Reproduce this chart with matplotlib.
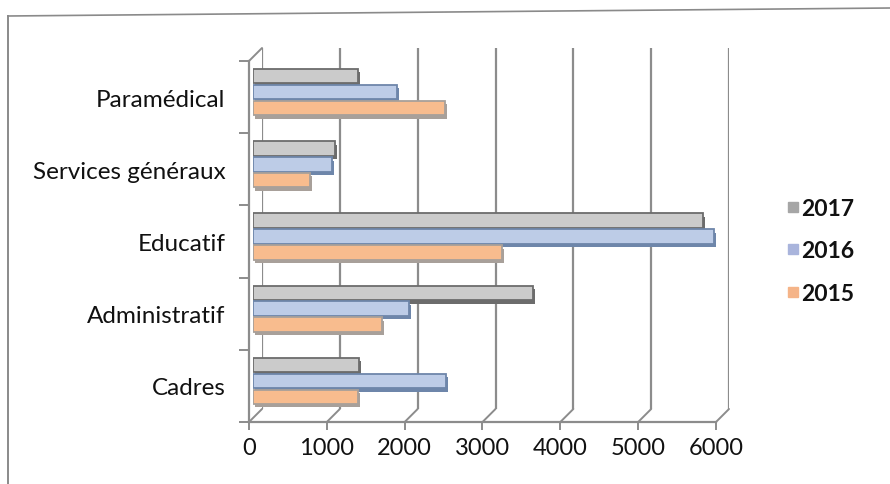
import numpy as np
import matplotlib.pyplot as plt
from matplotlib.lines import Line2D
from matplotlib.patches import ConnectionPatch
import matplotlib.patheffects as pe

plt.rcParams['font.family'] = ['Lato', 'DejaVu Sans']

# ---------------- data (bottom to top) ----------------
categories = ["Cadres", "Administratif", "Educatif", "Services généraux", "Paramédical"]
years = ["2017", "2016", "2015"]
v2017 = [1360, 3600, 5780, 1050, 1350]
v2016 = [2480, 2000, 5920, 1020, 1850]
v2015 = [1350, 1660, 3200, 730, 2470]
x_ticks = [0, 1000, 2000, 3000, 4000, 5000, 6000]

series = [v2017, v2016, v2015]
fills = ["#cbcbcb", "#bdcce7", "#f8bc8e"]
shadows = ["#6c6c6c", "#6e86aa", "#a8a09a"]
legend_cols = ["#a6a6a6", "#a9b4dc", "#f5b488"]
grid_col = "#8c8c8c"
text_col = "#111111"

W, H = 890, 485
fig = plt.figure(figsize=(W / 100, H / 100), dpi=100)


def px_axes(x0, x1, ytop, ybot, **kw):
    return fig.add_axes([x0 / W, 1 - ybot / H, (x1 - x0) / W, (ybot - ytop) / H], **kw)


n = len(categories)

# back wall (gridlines), front axis (ticks / labels) and bar plane between
wall = px_axes(262, 729, 49, 410)
front = px_axes(249, 716, 62, 423)
ax = px_axes(253, 720, 57, 418)

for a in (wall, front, ax):
    a.set_xlim(0, 6000)
    a.set_ylim(0, n)
    a.patch.set_visible(False)

# ---- back wall
wall.vlines(x_ticks, 0, n, color=grid_col, lw=1.6)
wall.set_xticks([])
wall.set_yticks([])
for s in wall.spines.values():
    s.set_visible(False)

# ---- front axis
for s in ("top", "right"):
    front.spines[s].set_visible(False)
for s in ("left", "bottom"):
    front.spines[s].set_color(grid_col)
    front.spines[s].set_linewidth(1.6)
front.set_xticks(x_ticks)
front.set_xticklabels([str(t) for t in x_ticks], fontsize=17, color=text_col)
front.tick_params(axis="x", length=6, width=1.4, color=grid_col, pad=5)
front.set_yticks(np.arange(n + 1))
front.set_yticklabels([])
front.tick_params(axis="y", which="major", length=7, width=1.4, color=grid_col)
front.set_yticks(np.arange(n) + 0.5, minor=True)
front.set_yticklabels(categories, minor=True, fontsize=17.5, color=text_col)
front.tick_params(axis="y", which="minor", length=0, pad=17)

# floor diagonals joining front ticks to back gridlines
for t in x_ticks:
    fig.add_artist(ConnectionPatch(xyA=(t, 0), coordsA=front.transData,
                                   xyB=(t, 0), coordsB=wall.transData,
                                   color=grid_col, lw=1.4))
fig.add_artist(ConnectionPatch(xyA=(0, n), coordsA=front.transData,
                               xyB=(0, n), coordsB=wall.transData,
                               color=grid_col, lw=1.4))

# ---- bars
ax.axis("off")
y = np.arange(n) + 0.5
offsets = [0.22, 0.0, -0.22]
for vals, off, fc, sc, yr in zip(series, offsets, fills, shadows, years):
    bars = ax.barh(y + off, vals, height=0.2, color=fc, edgecolor=sc, lw=1.3, label=yr)
    for b in bars:
        b.set_path_effects([pe.SimplePatchShadow(offset=(1.5, -2.5), shadow_rgbFace=sc, alpha=1),
                            pe.Normal()])

handles = [Line2D([], [], marker="s", ls="none", ms=7, color=c) for c in legend_cols]
fig.legend(handles, years, loc="upper left", bbox_to_anchor=(762 / W, 1 - 178 / H),
           frameon=False, prop={"size": 16.5, "weight": "bold"}, handletextpad=-0.1,
           labelspacing=0.95, handlelength=0.9, labelcolor=text_col)

# chart border (scanned frame)
fig.add_artist(Line2D([8 / W, 1], [1 - 17 / H, 1 - 9 / H], color="#8a8a8a", lw=1.2))
fig.add_artist(Line2D([8 / W, 8 / W], [1 - 17 / H, 0], color="#8a8a8a", lw=1.4))

fig.savefig("out.png", dpi=100)
